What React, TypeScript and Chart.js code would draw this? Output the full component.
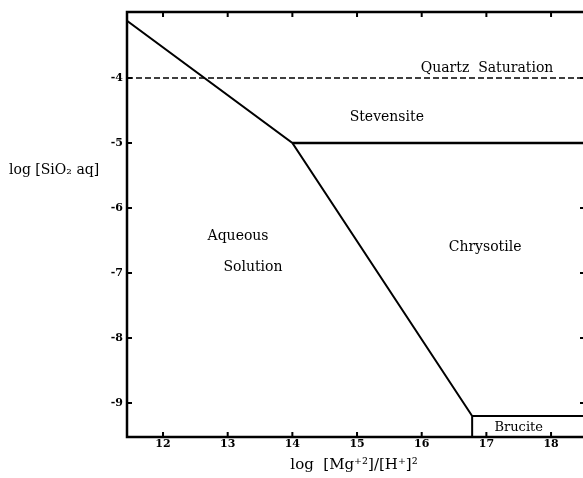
import React, { useEffect, useRef } from "react";
import { Chart, registerables } from "chart.js";
Chart.register(...registerables);

// Axis ranges and tick labels
const X_MIN = 11.443;
const X_MAX = 18.525;
const Y_MIN = -9.523;
const Y_MAX = -2.985;
const xTickValues = [12, 13, 14, 15, 16, 17, 18];
const yTickValues = [-9, -8, -7, -6, -5, -4];

// Phase boundaries
const boundaryX = [11.443, 14.0, 16.78, 16.78];
const boundaryY = [-3.12, -5.0, -9.2, -9.523];
const stevensiteX = [14.0, 18.525];
const stevensiteY = [-5.0, -5.0];
const quartzX = [11.443, 18.525];
const quartzY = [-4.0, -4.0];
const bruciteX = [16.78, 18.525];
const bruciteY = [-9.2, -9.2];

// Field labels (data coordinates)
const fieldNames = ["Quartz  Saturation", "Stevensite", "Aqueous", "Solution", "Chrysotile", "Brucite"];
const fieldX = [17.01, 15.46, 13.16, 13.39, 16.98, 17.5];
const fieldY = [-3.85, -4.6, -6.43, -6.91, -6.6, -9.38];

const xTitle = "log  [Mg\u207A\u00B2]/[H\u207A]\u00B2";
const yTitle = "log [SiO\u2082 aq]";

const toPts = (xs: number[], ys: number[]) => xs.map((x, i) => ({ x, y: ys[i] }));

const LABEL_FONT = '"DejaVu Serif", serif';

const overlay = {
  id: "overlay",
  afterDraw(chart: any) {
    const { ctx, chartArea: a, scales } = chart;
    const xs = scales.x;
    const ys = scales.y;
    ctx.save();
    // frame
    ctx.strokeStyle = "#000";
    ctx.lineWidth = 2.5;
    ctx.strokeRect(a.left, a.top, a.right - a.left, a.bottom - a.top);
    // inward ticks
    ctx.lineWidth = 2;
    const tl = 5;
    xTickValues.forEach((v) => {
      const px = xs.getPixelForValue(v);
      ctx.beginPath();
      ctx.moveTo(px, a.bottom);
      ctx.lineTo(px, a.bottom - tl);
      ctx.moveTo(px, a.top);
      ctx.lineTo(px, a.top + tl);
      ctx.stroke();
    });
    yTickValues.forEach((v) => {
      const py = ys.getPixelForValue(v);
      ctx.beginPath();
      ctx.moveTo(a.left, py);
      ctx.lineTo(a.left + tl, py);
      ctx.moveTo(a.right, py);
      ctx.lineTo(a.right - tl, py);
      ctx.stroke();
    });
    // field labels
    ctx.fillStyle = "#000";
    ctx.textAlign = "center";
    ctx.textBaseline = "middle";
    fieldNames.forEach((t, i) => {
      ctx.font = (t === "Brucite" ? "13px " : "14px ") + LABEL_FONT;
      ctx.fillText(t, xs.getPixelForValue(fieldX[i]), ys.getPixelForValue(fieldY[i]));
    });
    // axis titles
    ctx.font = "14px " + LABEL_FONT;
    ctx.textAlign = "left";
    ctx.fillText(yTitle, 9, 170);
    ctx.font = "15px " + LABEL_FONT;
    ctx.textAlign = "center";
    ctx.fillText(xTitle, 354, 465);
    ctx.restore();
  },
};

export default function App() {
  const ref = useRef<HTMLCanvasElement | null>(null);
  useEffect(() => {
    if (!ref.current) return;
    const chart = new Chart(ref.current, {
      type: "scatter",
      data: {
        datasets: [
          { data: toPts(boundaryX, boundaryY), showLine: true, borderColor: "#000", borderWidth: 2, pointRadius: 0, tension: 0 },
          { data: toPts(stevensiteX, stevensiteY), showLine: true, borderColor: "#000", borderWidth: 2.5, pointRadius: 0 },
          { data: toPts(quartzX, quartzY), showLine: true, borderColor: "#000", borderWidth: 1.5, borderDash: [6, 3], pointRadius: 0 },
          { data: toPts(bruciteX, bruciteY), showLine: true, borderColor: "#000", borderWidth: 2, pointRadius: 0 },
        ],
      },
      options: {
        responsive: false,
        animation: false,
        events: [],
        layout: { padding: { left: 0, top: 12, right: 1, bottom: 0 } },
        plugins: { legend: { display: false }, tooltip: { enabled: false }, title: { display: false } },
        scales: {
          x: {
            type: "linear",
            min: X_MIN,
            max: X_MAX,
            grid: { display: false, drawTicks: false },
            border: { display: false },
            afterBuildTicks: (s: any) => { s.ticks = xTickValues.map((v) => ({ value: v })); },
            afterFit: (s: any) => { s.height = 41; },
            ticks: { color: "#000", padding: 1, font: { family: LABEL_FONT, size: 11, weight: "bold" }, maxRotation: 0, autoSkip: false },
          },
          y: {
            type: "linear",
            min: Y_MIN,
            max: Y_MAX,
            grid: { display: false, drawTicks: false },
            border: { display: false },
            afterBuildTicks: (s: any) => { s.ticks = yTickValues.map((v) => ({ value: v })); },
            afterFit: (s: any) => { s.width = 127; },
            ticks: { color: "#000", padding: 4, font: { family: LABEL_FONT, size: 11, weight: "bold" }, autoSkip: false },
          },
        },
      },
      plugins: [overlay],
    });
    return () => chart.destroy();
  }, []);
  return (
    <div style={{ position: "absolute", left: 0, top: 0, width: 583, height: 478, overflow: "hidden", background: "#fff" }}>
      <canvas ref={ref} width={586} height={478} style={{ display: "block" }} />
    </div>
  );
}
